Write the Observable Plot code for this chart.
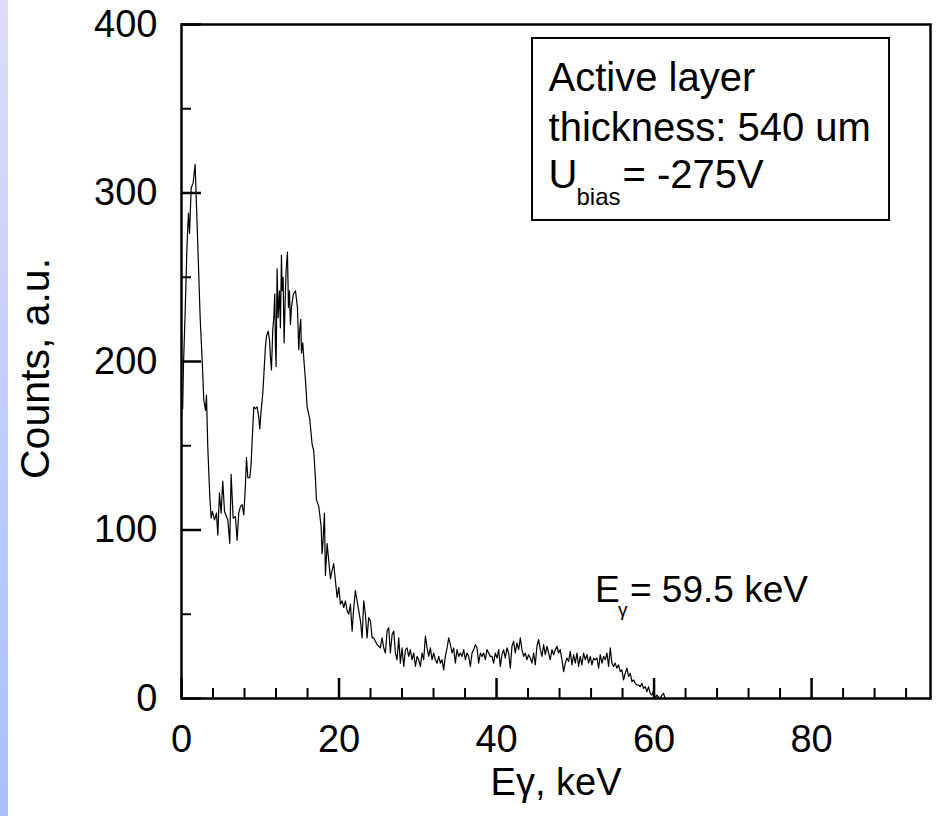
<!DOCTYPE html>
<html>
<head>
<meta charset="utf-8">
<script src="https://cdn.jsdelivr.net/npm/d3@7"></script>
<script src="https://cdn.jsdelivr.net/npm/@observablehq/plot@0.6"></script>
<style>
html, body { margin: 0; padding: 0; background: #fff; overflow: hidden; }
#strip { position: absolute; left: 0; top: 0; width: 8px; height: 816px; z-index: 2;
  background: linear-gradient(to bottom, #dcdcfc, #a9c0fd); }
#chart { position: absolute; left: 0; top: 0; }
</style>
</head>
<body>
<div id="strip"></div>
<div id="chart"></div>
<script>
// Spectrum: [E (keV), counts]
const lowEnergyRegion = [
  [0.15,172],[0.25,198],[0.47,230],[0.68,266],[0.8,280],[0.89,288],[1.02,276],[1.23,303],[1.48,306],[1.73,317],
  [1.95,286],[2.16,256],[2.37,226],[2.66,197],[2.83,177],[3.05,171],[3.17,180],[3.34,149],[3.59,120],[3.77,107],
  [3.93,111],[4.19,106],[4.44,110],[4.61,97],[4.82,122],[5.03,110],[5.24,129],[5.46,111],[5.71,108],[5.88,106],
  [6.13,92],[6.3,133],[6.56,107],[6.85,108],[7.06,94],[7.27,110],[7.49,114],[7.7,115],[7.91,109],[8.12,127],
  [8.25,143],[8.42,131],[8.67,131],[8.84,139],[8.97,153],[9.18,173],[9.39,172],[9.6,173],[9.81,167],[9.94,160],
  [10.11,171],[10.32,181],[10.49,195],[10.66,209],[10.79,215],[11.0,218],[11.17,213],[11.29,203],[11.42,195],[11.59,219],
  [11.72,226],[11.84,240],[11.93,209],[12.01,197],[12.14,255],[12.27,226],[12.44,242],[12.56,220],[12.69,263],[12.78,242],
  [12.9,250],[13.03,211],[13.16,236],[13.28,254],[13.45,265],[13.58,232],[13.71,242],[13.83,222],[13.96,232],[14.2,240],
  [14.47,242],[14.72,232],[14.89,207],[15.01,219],[15.14,225],[15.23,205],[15.4,211],[15.57,199],[15.74,189],[15.95,173],
  [16.28,166],[16.58,151],[16.79,147],[17.0,131],[17.13,118],[17.43,114],[17.73,102],[17.85,86],[17.98,94],[18.15,110],
  [18.27,73],[18.49,92],[18.69,82]
];
const plateauRegion = [
  [18.91,71],[19.12,76],[19.33,80],[19.54,70],[19.76,60],[19.97,66],[20.18,56],[20.39,58],[20.6,54],[20.81,58],
  [21.03,52],[21.24,50],[21.45,56],[21.66,40],[21.87,54],[22.08,64],[22.29,58],[22.51,52],[22.72,46],[22.93,36],
  [23.14,58],[23.35,50],[23.56,36],[23.77,48],[23.99,46],[24.2,36],[24.41,36],[24.62,34],[24.83,32],[25.04,31],
  [25.25,30],[25.47,36],[25.68,30],[25.89,27],[26.1,40],[26.31,42],[26.52,27],[26.74,38],[26.95,40],[27.16,27],
  [27.37,23],[27.58,36],[27.79,21],[28.0,30],[28.22,19],[28.43,29],[28.64,30],[28.85,25],[29.06,29],[29.27,23],
  [29.49,27],[29.7,19],[29.91,25],[30.12,23],[30.33,19],[30.54,27],[30.75,23],[30.97,37],[31.18,30],[31.39,25],
  [31.6,30],[31.81,23],[32.02,27],[32.23,23],[32.45,21],[32.66,25],[32.87,21],[33.08,23],[33.29,17],[33.5,25],
  [33.72,30],[33.93,36],[34.14,32],[34.35,27],[34.56,30],[34.77,21],[34.98,29],[35.2,25],[35.41,27],[35.62,25],
  [35.83,29],[36.04,23],[36.25,27],[36.46,25],[36.68,19],[36.89,27],[37.1,29],[37.31,32],[37.52,30],[37.73,21],
  [37.95,27],[38.16,25],[38.37,27],[38.58,23],[38.79,29],[39.0,27],[39.21,25]
];
const tailRegion = [
  [39.42,25],[39.63,21],[39.84,27],[40.06,24],[40.27,29],[40.48,19],[40.69,26],[40.9,29],[41.11,24],[41.33,30],
  [41.54,27],[41.75,18],[41.96,31],[42.17,34],[42.38,27],[42.59,33],[42.81,29],[43.02,36],[43.23,29],[43.44,25],
  [43.65,27],[43.86,23],[44.07,26],[44.29,24],[44.5,21],[44.71,27],[44.92,20],[45.13,31],[45.34,35],[45.56,29],
  [45.77,25],[45.98,32],[46.19,26],[46.4,31],[46.61,27],[46.82,23],[47.04,29],[47.25,26],[47.46,29],[47.67,31],
  [47.88,27],[48.09,29],[48.3,23],[48.52,16],[48.73,21],[48.94,24],[49.15,22],[49.36,28],[49.57,20],[49.79,26],
  [50.0,21],[50.21,27],[50.42,19],[50.63,25],[50.84,20],[51.05,27],[51.27,23],[51.48,26],[51.69,21],[51.9,25],
  [52.11,20],[52.32,24],[52.53,23],[52.75,24],[52.96,18],[53.17,26],[53.38,21],[53.59,25],[53.8,23],[54.02,27],
  [54.23,19],[54.44,30],[54.65,21],[54.86,19],[55.07,21],[55.28,18],[55.5,20],[55.71,16],[55.92,17],[56.13,11],
  [56.34,15],[56.55,18],[56.77,13],[56.98,15],[57.19,10],[57.4,11],[57.61,9],[57.82,8],[58.03,8],[58.25,7],
  [58.46,9],[58.67,6],[58.88,7],[59.09,4],[59.3,7],[59.51,3],[59.73,2],[59.94,5],[60.15,0],[60.36,2],
  [60.57,1],[60.78,0],[60.99,2],[61.2,3],[61.42,0],[61.63,0]
];

const xMajorTicks = [0, 20, 40, 60, 80];
const xMinorTicks = [4, 8, 12, 16, 24, 28, 32, 36, 44, 48, 52, 56, 64, 68, 72, 76, 84, 88, 92];
const yMajorTicks = [0, 100, 200, 300, 400];
const yMinorTicks = [50, 150, 250, 350];
const xTitle = "Eγ, keV";
const yTitle = "Counts, a.u.";
const infoLine1 = "Active layer";
const infoLine2 = "thickness: 540 um";
const infoU = "U";
const infoSub = "bias";
const infoBias = "= -275V";
const peakE = "E";
const peakSub = "γ";
const peakText = "= 59.5 keV";

const spectrum = [...lowEnergyRegion, ...plateauRegion, ...tailRegion]
  .map(([e, c]) => ({e, c}));

// annotation placement (data space)
const box = {x1: 44.57, x2: 89.9, y1: 283.7, y2: 391.7};
const infoX = 46.6;

const font = "'Liberation Sans', Arial, Helvetica, sans-serif";

const chart = Plot.plot({
  width: 936,
  height: 816,
  marginLeft: 181,
  marginRight: 6,
  marginTop: 24,
  marginBottom: 118,
  x: {domain: [0, 95.1]},
  y: {domain: [0, 400]},
  style: {fontFamily: font, color: "black", background: "white"},
  marks: [
    Plot.rect([box], {x1: "x1", x2: "x2", y1: "y1", y2: "y2", fill: "white", stroke: "black", strokeWidth: 2}),
    Plot.line(spectrum, {x: "e", y: "c", stroke: "black", strokeWidth: 1.2}),
    Plot.frame({stroke: "black", strokeWidth: 2.5}),
    Plot.axisX(xMajorTicks, {tickSize: -20, tickPadding: 47, fontSize: 38, label: null, strokeWidth: 2.5, tickFormat: d => String(d)}),
    Plot.axisX(xMinorTicks, {tickSize: -10, tickPadding: 0, fontSize: 1, label: null, strokeWidth: 2, tickFormat: () => ""}),
    Plot.axisY(yMajorTicks, {tickSize: -20, tickPadding: 44, fontSize: 38, label: null, strokeWidth: 2.5, tickFormat: d => String(d)}),
    Plot.axisY(yMinorTicks, {tickSize: -10, tickPadding: 0, fontSize: 1, label: null, strokeWidth: 2, tickFormat: () => ""}),
    Plot.text([xTitle], {text: d => d, frameAnchor: "bottom", dy: 84, fontSize: 38, textAnchor: "middle", lineAnchor: "middle"}),
    Plot.text([yTitle], {text: d => d, frameAnchor: "left", dx: -146, dy: 7, rotate: -90, fontSize: 41, textAnchor: "middle", lineAnchor: "middle"}),
    Plot.text([infoLine1], {text: d => d, x: infoX, y: 360.8, textAnchor: "start", lineAnchor: "bottom", fontSize: 40}),
    Plot.text([infoLine2], {text: d => d, x: infoX, y: 331.1, textAnchor: "start", lineAnchor: "bottom", fontSize: 40}),
    Plot.text([infoU], {text: d => d, x: infoX, y: 302.7, textAnchor: "start", lineAnchor: "bottom", fontSize: 40}),
    Plot.text([infoSub], {text: d => d, x: infoX, y: 302.7, dx: 28, dy: 17, textAnchor: "start", lineAnchor: "bottom", fontSize: 24}),
    Plot.text([infoBias], {text: d => d, x: infoX, y: 302.7, dx: 74, textAnchor: "start", lineAnchor: "bottom", fontSize: 40}),
    Plot.text([peakE], {text: d => d, x: 52.5, y: 57, textAnchor: "start", lineAnchor: "bottom", fontSize: 37}),
    Plot.text([peakSub], {text: d => d, x: 52.5, y: 57, dx: 23, dy: 14, textAnchor: "start", lineAnchor: "bottom", fontSize: 19}),
    Plot.text([peakText], {text: d => d, x: 52.5, y: 57, dx: 35, textAnchor: "start", lineAnchor: "bottom", fontSize: 37})
  ]
});
document.getElementById("chart").appendChild(chart);
</script>
</body>
</html>
